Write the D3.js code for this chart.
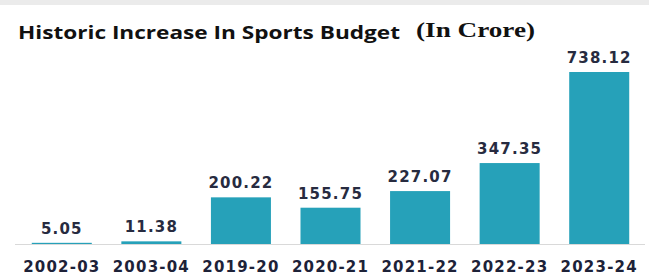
<!DOCTYPE html>
<html>
<head>
<meta charset="utf-8">
<script src="https://cdn.jsdelivr.net/npm/d3@7"></script>
<style>
  html, body { margin: 0; padding: 0; background: #fff; }
  svg { display: block; }
</style>
</head>
<body>
<div id="chart"></div>
<script>
const years = ['2002-03', '2003-04', '2019-20', '2020-21', '2021-22', '2022-23', '2023-24'];
const budget = [5.05, 11.38, 200.22, 155.75, 227.07, 347.35, 738.12];

const width = 649, height = 277;
const baseline = 244;

const svg = d3.select('#chart')
  .append('svg')
    .attr('width', width)
    .attr('height', height);

// faint gray strip along the top edge
svg.append('rect')
  .attr('x', 0).attr('y', 0)
  .attr('width', width).attr('height', 5)
  .attr('fill', '#ebebeb');

// title is stretched wide in the original, so fit it to its measured length
svg.append('text')
  .attr('x', 18)
  .attr('y', 39)
  .attr('fill', '#111')
  .attr('textLength', 382)
  .attr('lengthAdjust', 'spacingAndGlyphs')
  .style('font', '700 18px "Open Sans", sans-serif')
  .text('Historic Increase In Sports Budget');

svg.append('text')
  .attr('x', 416)
  .attr('y', 37)
  .attr('fill', '#111')
  .attr('textLength', 119)
  .attr('lengthAdjust', 'spacingAndGlyphs')
  .style('font', '700 20px "Liberation Serif", serif')
  .text('(In Crore)');

const x = d3.scaleBand()
  .domain(years)
  .range([17, 644])
  .paddingInner(0.33)
  .paddingOuter(0.165);

const y = d3.scaleLinear()
  .domain([0, 738.12])
  .range([baseline, 72]);

svg.append('line')
  .attr('x1', 15).attr('x2', 645)
  .attr('y1', baseline + 0.5).attr('y2', baseline + 0.5)
  .attr('stroke', '#d9d9d9');

svg.selectAll('rect.bar')
  .data(budget)
  .join('rect')
    .attr('class', 'bar')
    .attr('x', (d, i) => x(years[i]))
    .attr('width', x.bandwidth())
    .attr('y', d => y(d))
    .attr('height', d => baseline - y(d))
    .attr('fill', '#26a1b9');

svg.selectAll('text.value')
  .data(budget)
  .join('text')
    .attr('class', 'value')
    .attr('x', (d, i) => x(years[i]) + x.bandwidth() / 2)
    .attr('y', d => y(d) - 9)
    .attr('text-anchor', 'middle')
    .attr('fill', '#272b40')
    .style('font', '700 15px "DejaVu Sans", sans-serif')
    .style('letter-spacing', '1.2px')
    .text(d => d.toFixed(2));

svg.selectAll('text.year')
  .data(years)
  .join('text')
    .attr('class', 'year')
    .attr('x', d => x(d) + x.bandwidth() / 2)
    .attr('y', 272)
    .attr('text-anchor', 'middle')
    .attr('fill', '#1d2238')
    .style('font', '700 15px "DejaVu Sans", sans-serif')
    .style('letter-spacing', '1.2px')
    .text(d => d);
</script>
</body>
</html>
